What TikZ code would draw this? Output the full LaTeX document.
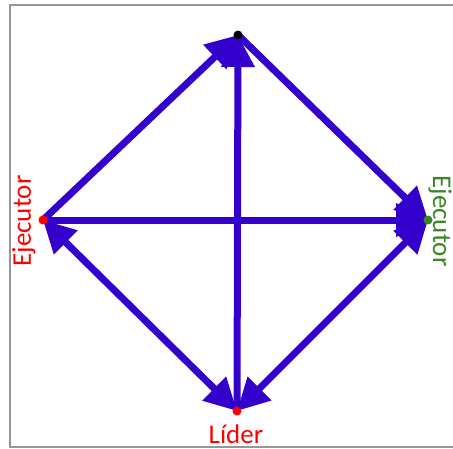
\documentclass[tikz,border=0pt]{standalone}
\usepackage{fontspec}
\setmainfont{Carlito}
\usetikzlibrary{arrows.meta}
\definecolor{arrowblue}{RGB}{51,0,204}
\definecolor{labelgreen}{RGB}{56,135,35}
\definecolor{framegray}{RGB}{150,150,150}
\begin{document}
\begin{tikzpicture}[x=1pt,y=-1pt,
  dot/.style={circle,fill=#1,inner sep=0pt,minimum size=9pt},
  conn/.style={draw=arrowblue,line width=7pt},
  headend/.style={-{Triangle[length=32pt,width=32pt]}},
  headboth/.style={{Triangle[length=32pt,width=32pt]}-{Triangle[length=32pt,width=32pt]}},
  lbl/.style={font=\fontsize{27}{27}\selectfont,inner sep=0pt}]
\useasboundingbox (0,0) rectangle (453,448);
\draw[framegray,line width=1.5pt] (453,5) -- (10,5) -- (10,447) -- (453,447);
\coordinate (T) at (238,35);
\coordinate (L) at (43,220);
\coordinate (R) at (428,220);
\coordinate (B) at (237,411);
\draw[conn,headend] (L) -- (T);
\draw[conn,headend] (B) -- (T);
\draw[conn,headend] (T) -- (R);
\draw[conn,headend] (L) -- (R);
\draw[conn,headboth] (L) -- (B);
\draw[conn,headboth] (B) -- (R);
\node[dot=black] (Tdot) at (T) {};
\node[dot=red] (Ldot) at (L) {};
\node[dot=labelgreen] (Rdot) at (R) {};
\node[dot=red] (Bdot) at (B) {};
\node[lbl,text=red,rotate=90] (Llbl) at (24,221) {Ejecutor};
\node[lbl,text=labelgreen,rotate=-90] (Rlbl) at (440,221) {Ejecutor};
\node[lbl,text=red] (Blbl) at (236,434) {Líder};
\end{tikzpicture}
\end{document}
